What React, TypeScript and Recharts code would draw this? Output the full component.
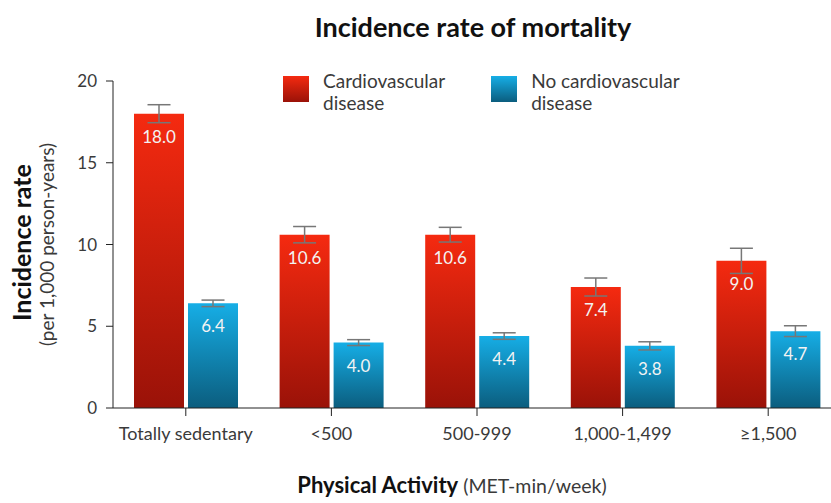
import React from "react"
import {
  BarChart,
  Bar,
  XAxis,
  YAxis,
  ErrorBar,
  LabelList,
  Legend
} from "recharts"

const categories = ["Totally sedentary", "<500", "500-999", "1,000-1,499", "≥1,500"]
const cvdRates = [18.0, 10.6, 10.6, 7.4, 9.0]
const cvdErrors = [0.55, 0.5, 0.45, 0.55, 0.77]
const noCvdRates = [6.4, 4.0, 4.4, 3.8, 4.7]
const noCvdErrors = [0.2, 0.18, 0.2, 0.25, 0.33]
const yTicks = [0, 5, 10, 15, 20]

const data = categories.map((name, i) => ({
  name,
  cvd: cvdRates[i],
  cvdErr: cvdErrors[i],
  noCvd: noCvdRates[i],
  noCvdErr: noCvdErrors[i]
}))

const FONT = "Lato, 'Open Sans', sans-serif"
const TEXT = "#3a3a3a"

const legendItems = [
  { label: ["Cardiovascular", "disease"], top: "#f42a10", bottom: "#9a1208" },
  { label: ["No cardiovascular", "disease"], top: "#16aee6", bottom: "#0b5d7e" }
]

const renderLegend = () => (
  <div style={{ display: "flex", fontFamily: FONT, fontSize: 19, color: TEXT, lineHeight: "22px" }}>
    {legendItems.map((item, i) => (
      <div key={i} style={{ display: "flex", alignItems: "flex-start", marginRight: i === 0 ? 46 : 0 }}>
        <div
          style={{
            width: 26,
            height: 26,
            marginTop: 9,
            marginRight: 14,
            background: `linear-gradient(${item.top}, ${item.bottom})`
          }}
        />
        <div style={{ paddingTop: 3 }}>
          {item.label[0]}
          <br />
          {item.label[1]}
        </div>
      </div>
    ))}
  </div>
)

const YTitle = ({ viewBox }: any) => {
  const cy = viewBox.y + viewBox.height / 2
  return (
    <g fontFamily={FONT}>
      <text x={21} y={cy - 2} transform={`rotate(-90, 21, ${cy - 2})`} textAnchor="middle" dominantBaseline="central" fontSize={25} fontWeight="bold" fill="#111">
        Incidence rate
      </text>
      <text x={46} y={cy} transform={`rotate(-90, 46, ${cy})`} textAnchor="middle" dominantBaseline="central" fontSize={19} fill={TEXT}>
        (per 1,000 person-years)
      </text>
    </g>
  )
}

export default function App() {
  return (
    <div style={{ position: "absolute", left: 0, top: 0, width: 831, height: 503, overflow: "hidden", background: "#fff" }}>
      <div
        style={{
          position: "absolute",
          top: 10,
          left: 0,
          width: 946,
          textAlign: "center",
          fontFamily: FONT,
          fontWeight: "bold",
          fontSize: 27,
          color: "#111"
        }}
      >
        Incidence rate of mortality
      </div>
      <BarChart
        width={851}
        height={503}
        data={data}
        margin={{ top: 81, right: 10, bottom: 0, left: 53 }}
        barSize={50}
        barGap={4}
      >
        <defs>
          <linearGradient id="redGrad" x1="0" y1="0" x2="0" y2="1">
            <stop offset="0%" stopColor="#f52a10" />
            <stop offset="100%" stopColor="#9a1208" />
          </linearGradient>
          <linearGradient id="blueGrad" x1="0" y1="0" x2="0" y2="1">
            <stop offset="0%" stopColor="#16aee6" />
            <stop offset="100%" stopColor="#0b5d7e" />
          </linearGradient>
        </defs>
        <XAxis
          dataKey="name"
          height={95}
          tick={{ fontSize: 18, fill: TEXT, fontFamily: FONT }}
          tickSize={8}
          tickMargin={11}
          stroke="#222"
          interval={0}
        />
        <YAxis
          width={60}
          domain={[0, 20]}
          ticks={yTicks}
          tick={{ fontSize: 17, fill: TEXT, fontFamily: FONT }}
          tickSize={7}
          tickMargin={9}
          stroke="#222"
          label={<YTitle />}
        />
        <Legend
          content={renderLegend}
          layout="horizontal"
          verticalAlign="middle"
          align="center"
          wrapperStyle={{ top: 67, left: 283, width: "auto" }}
        />
        <Bar dataKey="cvd" fill="url(#redGrad)" isAnimationActive={false}>
          <ErrorBar dataKey="cvdErr" width={11.5} stroke="#777" strokeWidth={1.5} direction="y" />
          <LabelList
            dataKey="cvd"
            position="insideTop"
            offset={17}
            fill="#f3f3f3"
            fontSize={17}
            fontFamily={FONT}
            formatter={(v: any) => Number(v).toFixed(1)}
          />
        </Bar>
        <Bar dataKey="noCvd" fill="url(#blueGrad)" isAnimationActive={false}>
          <ErrorBar dataKey="noCvdErr" width={11.5} stroke="#777" strokeWidth={1.5} direction="y" />
          <LabelList
            dataKey="noCvd"
            position="insideTop"
            offset={17}
            fill="#f3f3f3"
            fontSize={17}
            fontFamily={FONT}
            formatter={(v: any) => Number(v).toFixed(1)}
          />
        </Bar>
      </BarChart>
      <div
        style={{
          position: "absolute",
          top: 471,
          left: 0,
          width: 904,
          textAlign: "center",
          fontFamily: FONT,
          color: "#111"
        }}
      >
        <span style={{ fontWeight: "bold", fontSize: 22 }}>Physical Activity</span>
        <span style={{ fontSize: 19.5, color: TEXT }}> (MET-min/week)</span>
      </div>
    </div>
  )
}
